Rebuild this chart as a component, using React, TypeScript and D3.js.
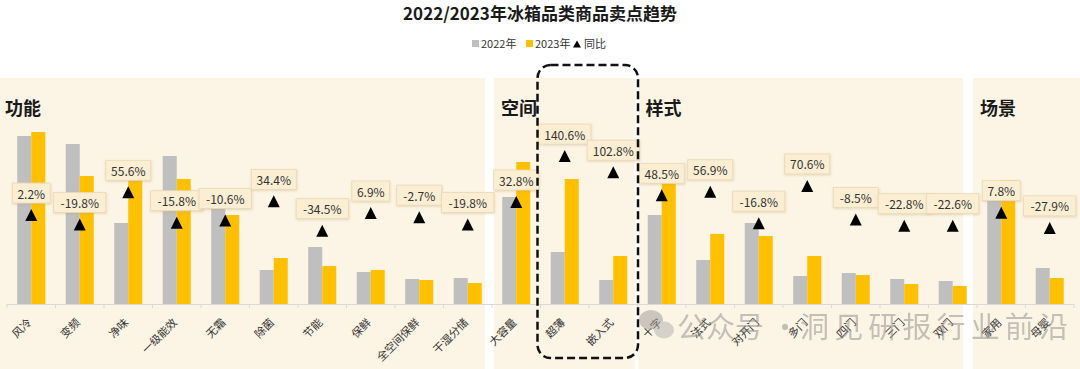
import * as d3 from "d3";

const categories = [
  "风冷", "变频", "净味", "一级能效", "无霜", "除菌", "节能", "保鲜", "全空间保鲜", "干湿分储",
  "大容量", "超薄", "嵌入式",
  "十字", "法式", "对开门", "多门", "四门", "三门", "双门",
  "家用", "母婴",
];
const groupNames = ["功能", "空间", "样式", "场景"];
const groupSizes = [10, 3, 7, 2];

// relative sales index
const values2022 = [168, 160, 81, 148, 100, 34, 57, 32, 25, 26, 107, 52, 24, 89, 44, 81, 28, 31, 25, 23, 115, 36];
const values2023 = [172, 128, 126, 125, 89, 46, 38, 34, 24, 21, 142, 125, 48, 132, 70, 68, 48, 29, 20, 18, 124, 26];
const yoy = [2.2, -19.8, 55.6, -15.8, -10.6, 34.4, -34.5, 6.9, -2.7, -19.8, 32.8, 140.6, 102.8, 48.5, 56.9, -16.8, 70.6, -8.5, -22.8, -22.6, 7.8, -27.9];
const highlighted = ["超薄", "嵌入式"];

const W = 1080;
const H = 369;
const BASE = 304;
const GRAY = "#bfbfbf";
const YELLOW = "#ffc000";
const PANEL = "#fcf4e4";
const FONT = "'Noto Sans CJK SC', 'Noto Sans', sans-serif";

// white gaps between the panels, relative to the group boundary
const gapLeft = [0, -7, -3, -14];
const gapRight = [0, 2, 1, -4];

export default function App() {
  const x = d3.scaleBand<string>().domain(categories).range([7, 1074]).paddingInner(0).paddingOuter(0);
  const inner = d3.scaleBand<string>().domain(["2022", "2023"]).range([0, x.bandwidth()]).paddingInner(0).paddingOuter(0.73);
  const y = d3.scaleLinear().domain([0, 180]).range([BASE, BASE - 180]);
  const yPct = d3.scaleLinear().domain([-200, 200]).range([301.2, 130.8]);

  const starts = d3.cumsum([0, ...groupSizes.slice(0, -1)]);
  const panels = groupNames.map((name, i) => {
    const first = categories[starts[i]];
    const lastIdx = starts[i] + groupSizes[i] - 1;
    const left = i === 0 ? 0 : (x(first) as number) + gapRight[i];
    const right = i === groupNames.length - 1 ? W : (x(categories[lastIdx + 1]) as number) + gapLeft[i + 1];
    return { name, left, right };
  });

  const hx0 = (x(highlighted[0]) as number) - 3;
  const hx1 = (x(highlighted[highlighted.length - 1]) as number) + x.bandwidth() + 0.5;

  const ticks = [...categories.map((c) => x(c) as number), x.range()[1]];

  return (
    <svg width={W} height={H} style={{ position: "absolute", left: 0, top: 0, background: "#fff" }} fontFamily={FONT}>
      <defs>
        <filter id="shadow" x="-20%" y="-30%" width="140%" height="170%">
          <feDropShadow dx="0.5" dy="1" stdDeviation="1" floodColor="#b89c6a" floodOpacity="0.35" />
        </filter>
      </defs>

      {panels.map((p, i) => (
        <g key={p.name}>
          <rect x={p.left} y={78} width={p.right - p.left} height={H - 78} fill={PANEL} />
          <text x={p.left + (i === 0 ? 5 : 7)} y={115} fontSize={18} fontWeight="bold" fill="#1a1a1a">{p.name}</text>
        </g>
      ))}

      <text x={W / 2} y={20} textAnchor="middle" fontSize={17} fontWeight="bold" fill="#1a1a1a">
        2022/2023年冰箱品类商品卖点趋势
      </text>
      <g fontSize={11} fill="#333">
        <rect x={472} y={40} width={7} height={7} fill={GRAY} />
        <text x={481} y={47.5}>2022年</text>
        <rect x={526} y={40} width={7} height={7} fill={YELLOW} />
        <text x={535} y={47.5}>2023年</text>
        <path d="M573,47.5 L577,40.5 L581,47.5 Z" fill="#000" />
        <text x={584} y={47.5}>同比</text>
      </g>

      {categories.map((c, i) => {
        const bx = x(c) as number;
        return (
          <g key={c}>
            <rect x={bx + (inner("2022") as number)} y={y(values2022[i])} width={inner.bandwidth()} height={BASE - y(values2022[i])} fill={GRAY} />
            <rect x={bx + (inner("2023") as number)} y={y(values2023[i])} width={inner.bandwidth()} height={BASE - y(values2023[i])} fill={YELLOW} />
          </g>
        );
      })}

      <line x1={x.range()[0]} x2={x.range()[1]} y1={BASE + 0.5} y2={BASE + 0.5} stroke="#d9d9d9" />
      {ticks.map((t, i) => (
        <line key={i} x1={t} x2={t} y1={BASE} y2={BASE + 4} stroke="#d9d9d9" />
      ))}

      {categories.map((c) => {
        const cx = (x(c) as number) + x.bandwidth() / 2;
        return (
          <text key={c} transform={`translate(${cx - 1},${BASE + 17}) rotate(-45)`} textAnchor="end" dominantBaseline="middle" fontSize={11} fill="#333">
            {c}
          </text>
        );
      })}

      {categories.map((c, i) => {
        const cx = (x(c) as number) + x.bandwidth() / 2;
        const ty = yPct(yoy[i]);
        const label = `${yoy[i].toFixed(1)}%`;
        const bw = label.length * 7.2 + 9;
        return (
          <g key={c}>
            <path d={`M${cx - 6},${ty + 6} L${cx},${ty - 6} L${cx + 6},${ty + 6} Z`} fill="#000" />
            <rect x={cx - bw / 2} y={ty - 32} width={bw} height={20} fill="#fbeed3" stroke="#ead9b6" strokeWidth={0.8} filter="url(#shadow)" />
            <text x={cx} y={ty - 22} textAnchor="middle" dominantBaseline="central" fontSize={12} fill="#333">{label}</text>
          </g>
        );
      })}

      <rect x={hx0} y={65} width={hx1 - hx0} height={293} rx={13} fill="none" stroke="#111" strokeWidth={2.5} strokeDasharray="8 4" />

      <g opacity={0.5}>
        <ellipse cx={651} cy={320} rx={12} ry={10} fill="#9a9a9a" />
        <ellipse cx={664} cy={330} rx={10} ry={8.5} fill="#b0b0b0" />
        <text x={677} y={338} fontSize={29} fill="#8c8c8c">公众号 ·</text>
        <text x={800} y={338} fontSize={29} fill="#8c8c8c" textLength={268} lengthAdjust="spacing">洞见研报行业前沿</text>
      </g>
    </svg>
  );
}
